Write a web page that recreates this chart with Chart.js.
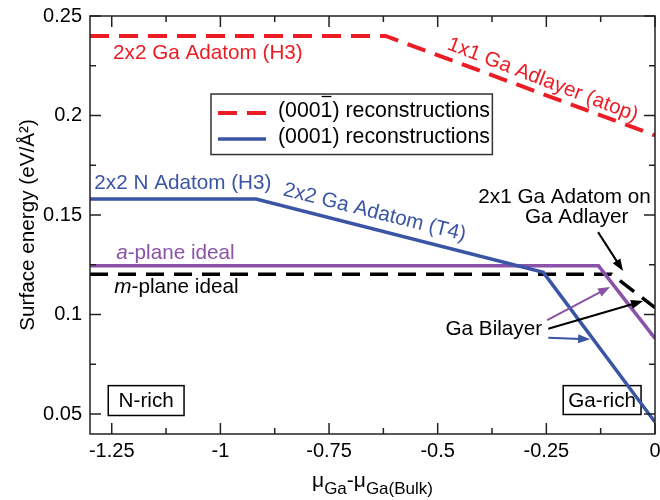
<!DOCTYPE html>
<html>
<head>
<meta charset="utf-8">
<script src="https://cdn.jsdelivr.net/npm/chart.js@4.4.1/dist/chart.umd.min.js"></script>
<style>
  html, body { margin: 0; padding: 0; background: #fff; }
  #wrap { width: 660px; height: 500px; }
</style>
</head>
<body>
<div id="wrap"><canvas id="chart" width="660" height="500"></canvas></div>
<script>
// values
const redX = [-1.3, -0.62, 0];
const redY = [0.24, 0.24, 0.19];
const blueX = [-1.3, -0.918, -0.257, 0];
const blueY = [0.158, 0.158, 0.1212, 0.046];
const purpleX = [-1.3, -0.13, 0];
const purpleY = [0.1245, 0.1245, 0.088];
const blackX = [-1.3, -0.1, 0];
const blackY = [0.1203, 0.1203, 0.1035];

const xTicks = [-1.25, -1, -0.75, -0.5, -0.25, 0];
const xMinor = [-1.125, -0.875, -0.625, -0.375, -0.125];
const yTicks = [0.05, 0.1, 0.15, 0.2, 0.25];
const yMinor = [0.075, 0.125, 0.175, 0.225];

const RED = "#ec1c24";
const BLUE = "#3b55a5";
const PURPLE = "#8a52a8";
const FONT = '"Liberation Sans", Arial, Helvetica, sans-serif';
const TXT = "20.7px " + FONT;

// annotation text, placed in data coordinates
const notes = [
  { text: "2x2 Ga Adatom (H3)", x: -1.247, y: 0.2313, color: RED, align: "left" },
  { text: "1x1 Ga Adlayer (atop)", x: -0.258, y: 0.2179, color: RED, align: "center", rot: 21 },
  { text: "2x2 N Adatom (H3)", x: -1.29, y: 0.1659, color: BLUE, align: "left" },
  { text: "2x2 Ga Adatom (T4)", x: -0.645, y: 0.1513, color: BLUE, align: "center", rot: 14 },
  { text: "2x1 Ga Adatom on", x: -0.208, y: 0.1589, color: "#000", align: "center" },
  { text: "Ga Adlayer", x: -0.18, y: 0.1489, color: "#000", align: "center" },
  { text: "Ga Bilayer", x: -0.482, y: 0.0924, color: "#000", align: "left" },
];
const italicNotes = [
  { first: "a", rest: "-plane ideal", x: -1.2397, y: 0.1309, color: PURPLE },
  { first: "m", rest: "-plane ideal", x: -1.244, y: 0.1139, color: "#000" },
];
const boxes = [
  { text: "N-rich", x0: -1.258, x1: -1.0836, y0: 0.0643, y1: 0.0493 },
  { text: "Ga-rich", x0: -0.2112, x1: -0.0321, y0: 0.0643, y1: 0.0498 },
];
const arrows = [
  { from: [-0.131, 0.1414], to: [-0.0735, 0.1219], color: "#000" },
  { from: [-0.2456, 0.0929], to: [-0.0275, 0.1068], color: "#000" },
  { from: [-0.248, 0.0972], to: [-0.1033, 0.1139], color: PURPLE },
  { from: [-0.2456, 0.0884], to: [-0.1492, 0.0876], color: BLUE },
];
const legendBox = { x0: -1.0216, y0: 0.2108, x1: -0.3742, y1: 0.1804 };

function pts(xs, ys) {
  return xs.map((x, i) => ({ x: x, y: ys[i] }));
}

function drawArrow(ctx, x1, y1, x2, y2, color) {
  const ang = Math.atan2(y2 - y1, x2 - x1);
  const len = 12, half = 4.5;
  ctx.strokeStyle = color;
  ctx.fillStyle = color;
  ctx.lineWidth = 2;
  ctx.beginPath();
  ctx.moveTo(x1, y1);
  ctx.lineTo(x2 - Math.cos(ang) * len * 0.8, y2 - Math.sin(ang) * len * 0.8);
  ctx.stroke();
  ctx.beginPath();
  ctx.moveTo(x2, y2);
  ctx.lineTo(x2 - Math.cos(ang) * len - Math.sin(ang) * half, y2 - Math.sin(ang) * len + Math.cos(ang) * half);
  ctx.lineTo(x2 - Math.cos(ang) * len + Math.sin(ang) * half, y2 - Math.sin(ang) * len - Math.cos(ang) * half);
  ctx.closePath();
  ctx.fill();
}

const decorations = {
  id: "decorations",
  beforeDatasetsDraw(chart) {
    const { ctx, scales } = chart;
    const sx = scales.x, sy = scales.y;
    ctx.save();
    ctx.font = TXT;
    ctx.textAlign = "center";
    ctx.textBaseline = "middle";
    boxes.forEach((b) => {
      const l = sx.getPixelForValue(b.x0), r = sx.getPixelForValue(b.x1);
      const t = sy.getPixelForValue(b.y0), bt = sy.getPixelForValue(b.y1);
      ctx.fillStyle = "#fff";
      ctx.fillRect(l, t, r - l, bt - t);
      ctx.strokeStyle = "#000";
      ctx.lineWidth = 1.5;
      ctx.strokeRect(l, t, r - l, bt - t);
      ctx.fillStyle = "#000";
      ctx.fillText(b.text, (l + r) / 2, (t + bt) / 2 + 1);
    });
    ctx.restore();
  },
  afterDatasetsDraw(chart) {
    const { ctx, chartArea: a, scales } = chart;
    const sx = scales.x, sy = scales.y;
    ctx.save();

    // frame + inward ticks on all four sides
    ctx.strokeStyle = "#222";
    ctx.lineWidth = 1.5;
    ctx.strokeRect(a.left, a.top, a.right - a.left, a.bottom - a.top);
    const tick = (vals, len) => {
      vals.forEach((v) => {
        const px = sx.getPixelForValue(v);
        ctx.beginPath();
        ctx.moveTo(px, a.bottom); ctx.lineTo(px, a.bottom - len);
        ctx.moveTo(px, a.top); ctx.lineTo(px, a.top + len);
        ctx.stroke();
      });
    };
    const tickY = (vals, len) => {
      vals.forEach((v) => {
        const py = sy.getPixelForValue(v);
        ctx.beginPath();
        ctx.moveTo(a.left, py); ctx.lineTo(a.left + len, py);
        ctx.moveTo(a.right, py); ctx.lineTo(a.right - len, py);
        ctx.stroke();
      });
    };
    tick(xTicks, 11); tick(xMinor, 6);
    tickY(yTicks, 11); tickY(yMinor, 6);

    // text notes
    ctx.font = TXT;
    ctx.textBaseline = "middle";
    notes.forEach((n) => {
      ctx.fillStyle = n.color;
      ctx.textAlign = n.align;
      ctx.save();
      ctx.translate(sx.getPixelForValue(n.x), sy.getPixelForValue(n.y));
      if (n.rot) ctx.rotate((n.rot * Math.PI) / 180);
      ctx.fillText(n.text, 0, 0);
      ctx.restore();
    });
    italicNotes.forEach((n) => {
      const px = sx.getPixelForValue(n.x), py = sy.getPixelForValue(n.y);
      ctx.fillStyle = n.color;
      ctx.textAlign = "left";
      ctx.font = "italic " + TXT;
      ctx.fillText(n.first, px, py);
      const w = ctx.measureText(n.first).width;
      ctx.font = TXT;
      ctx.fillText(n.rest, px + w, py);
    });

    arrows.forEach((ar) => {
      drawArrow(ctx,
        sx.getPixelForValue(ar.from[0]), sy.getPixelForValue(ar.from[1]),
        sx.getPixelForValue(ar.to[0]), sy.getPixelForValue(ar.to[1]), ar.color);
    });

    // legend
    const ll = sx.getPixelForValue(legendBox.x0), lr = sx.getPixelForValue(legendBox.x1);
    const lt = sy.getPixelForValue(legendBox.y0), lb = sy.getPixelForValue(legendBox.y1);
    ctx.fillStyle = "#fff";
    ctx.fillRect(ll, lt, lr - ll, lb - lt);
    ctx.strokeStyle = "#333";
    ctx.lineWidth = 1.5;
    ctx.strokeRect(ll, lt, lr - ll, lb - lt);
    const rows = [
      { color: RED, dash: [19, 10], pre: "(000", bar: "1", post: ") reconstructions" },
      { color: BLUE, dash: [], pre: "(0001) reconstructions", bar: "", post: "" },
    ];
    rows.forEach((r, i) => {
      const y = lt + 19 + i * 26;
      ctx.strokeStyle = r.color;
      ctx.lineWidth = r.dash.length ? 4 : 3.5;
      ctx.setLineDash(r.dash);
      ctx.beginPath();
      ctx.moveTo(ll + 7, y); ctx.lineTo(ll + 55, y);
      ctx.stroke();
      ctx.setLineDash([]);
      ctx.fillStyle = "#000";
      ctx.textAlign = "left";
      ctx.font = "21.3px " + FONT;
      let tx = ll + 67;
      ctx.fillText(r.pre, tx, y - 2);
      tx += ctx.measureText(r.pre).width;
      if (r.bar) {
        const bw = ctx.measureText(r.bar).width;
        ctx.fillText(r.bar, tx, y - 2);
        ctx.strokeStyle = "#000";
        ctx.lineWidth = 1.3;
        ctx.beginPath();
        ctx.moveTo(tx + 1, y - 16.5); ctx.lineTo(tx + bw - 1, y - 16.5);
        ctx.stroke();
        tx += bw;
        ctx.fillText(r.post, tx, y - 2);
      }
    });

    // axis titles
    ctx.fillStyle = "#000";
    ctx.textBaseline = "alphabetic";
    ctx.textAlign = "left";
    const parts = [
      { t: "\u03bc", size: 21, dy: 0 },
      { t: "Ga", size: 17, dy: 7 },
      { t: "-\u03bc", size: 21, dy: 0 },
      { t: "Ga(Bulk)", size: 17, dy: 7 },
    ];
    let total = 0;
    parts.forEach((p) => { ctx.font = p.size + "px " + FONT; p.w = ctx.measureText(p.t).width; total += p.w; });
    let cx = (a.left + a.right) / 2 - total / 2;
    parts.forEach((p) => {
      ctx.font = p.size + "px " + FONT;
      ctx.fillText(p.t, cx, 487 + p.dy);
      cx += p.w;
    });
    ctx.save();
    ctx.translate(34, (a.top + a.bottom) / 2);
    ctx.rotate(-Math.PI / 2);
    ctx.textAlign = "center";
    ctx.font = TXT;
    ctx.fillText("Surface energy (eV/\u00c5\u00b2)", 0, 0);
    ctx.restore();

    ctx.restore();
  },
};

const lineSet = (label, xs, ys, color, dash, width) => ({
  label: label,
  data: pts(xs, ys),
  showLine: true,
  borderColor: color,
  borderWidth: width,
  borderDash: dash,
  pointRadius: 0,
  fill: false,
  tension: 0,
});

new Chart(document.getElementById("chart"), {
  type: "scatter",
  data: {
    datasets: [
      lineSet("(0001\u0305) reconstructions", redX, redY, RED, [19, 10], 4),
      lineSet("(0001) reconstructions", blueX, blueY, BLUE, [], 3.5),
      lineSet("a-plane ideal", purpleX, purpleY, PURPLE, [], 3.5),
      lineSet("m-plane ideal", blackX, blackY, "#000", [18, 10], 3.5),
    ],
  },
  options: {
    responsive: false,
    animation: false,
    layout: { padding: { left: 0, right: 5, top: 16, bottom: 0 } },
    plugins: { legend: { display: false }, tooltip: { enabled: false } },
    scales: {
      x: {
        type: "linear",
        min: -1.3,
        max: 0,
        grid: { display: false, drawTicks: false },
        border: { display: false },
        afterBuildTicks: (s) => { s.ticks = xTicks.map((v) => ({ value: v })); },
        afterFit: (s) => { s.height = 66; s.paddingLeft = 0; s.paddingRight = 0; },
        ticks: {
          padding: 5,
          maxRotation: 0,
          autoSkip: false,
          color: "#000",
          font: { size: 20, family: FONT },
          callback: (v) => String(v),
        },
      },
      y: {
        type: "linear",
        min: 0.04,
        max: 0.25,
        grid: { display: false, drawTicks: false },
        border: { display: false },
        afterBuildTicks: (s) => { s.ticks = yTicks.map((v) => ({ value: v })); },
        afterFit: (s) => { s.width = 90; s.paddingTop = 0; s.paddingBottom = 0; },
        ticks: {
          padding: 8,
          autoSkip: false,
          color: "#000",
          font: { size: 20, family: FONT },
          callback: (v) => String(v),
        },
      },
    },
  },
  plugins: [decorations],
});
</script>
</body>
</html>
